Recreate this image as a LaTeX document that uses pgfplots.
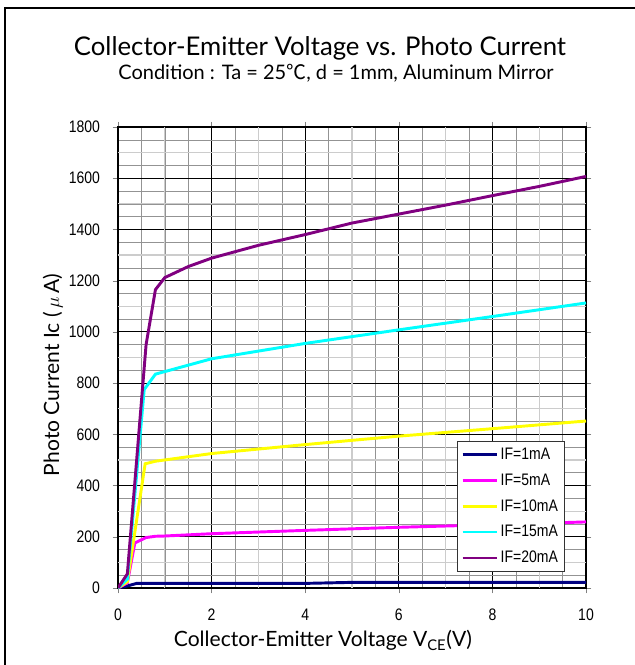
\documentclass[border=0pt]{standalone}
\usepackage{fontspec}
\setmainfont{Lato}
\newfontfamily\gothic{Liberation Sans}[FakeStretch=0.84]
\newfontfamily\cjk{Noto Sans CJK JP}
\usepackage{pgfplots}
\pgfplotsset{compat=1.18}
\definecolor{ifnavy}{RGB}{0,0,128}
\definecolor{ifmag}{RGB}{255,0,255}
\definecolor{ifyel}{RGB}{255,255,0}
\definecolor{ifcyan}{RGB}{0,255,255}
\definecolor{ifpurp}{RGB}{128,0,128}
\begin{document}
\begin{tikzpicture}[x=0.75pt,y=0.75pt]
\path[use as bounding box] (0,0) rectangle (635,665);
% frame, only left and top edges are inside the picture
\draw[line width=1.6pt] (5,-20) -- (5,657) -- (660,657);
\node[anchor=base,font=\fontsize{19.3}{22}\selectfont] at (320,609) {Collector-Emitter Voltage vs. Photo Current};
\node[anchor=base,font=\fontsize{15}{17}\selectfont] at (336,585) {Condition : Ta = 25{\cjk ℃}, d = 1mm, Aluminum Mirror};
\begin{axis}[
  at={(88.5pt,57.75pt)}, anchor=origin,
  scale only axis, width=351pt, height=345.75pt,
  xmin=0, xmax=10, ymin=0, ymax=1800,
  xtick={0,2,...,10}, ytick={0,200,...,1800},
  minor x tick num=3, minor y tick num=3,
  grid=both,
  major grid style={black, line width=0.6pt},
  minor grid style={gray!85, line width=0.45pt},
  extra x ticks={1,3,5,7,9}, extra y ticks={100,300,...,1700},
  extra x tick labels={}, extra y tick labels={},
  extra tick style={major grid style={gray!40, line width=0.9pt}, major tick length=0pt},
  tick align=outside, major tick length=4pt, minor tick length=0pt,
  axis line style={black, line width=0.8pt},
  /pgf/number format/assume math mode=true,
  /pgf/number format/1000 sep={},
  tick label style={font=\gothic\fontsize{12.5}{13}\selectfont},
  xticklabel style={yshift=-8pt},
  yticklabel style={xshift=-6pt},
  xlabel={Collector-Emitter Voltage V\textsubscript{CE}(V)},
  ylabel={Photo Current Ic (\,$\mu$\,A)},
  label style={font=\fontsize{15.8}{18}\selectfont},
  xlabel style={at={(axis description cs:0.438,0)}, anchor=base, yshift=-44pt},
  ylabel style={at={(axis description cs:-0.139,0.462)}, anchor=center},
  legend style={at={(0.724,0.319)}, anchor=north west, draw=black!80, line width=0.6pt,
    font=\gothic\fontsize{12.5}{13}\selectfont, row sep=5.2pt, inner sep=3pt},
  legend cell align=left,
  legend image code/.code={\draw[#1, line width=2pt] (0cm,0cm) -- (0.9cm,0cm);},
  every axis plot/.append style={line width=2.2pt, mark=none},
]
\addplot[ifnavy] coordinates {(0,0)(0.2,8)(0.4,18)(1,18)(2,18)(4,18)(5,22)(6,22)(8,22)(10,22)};
\addplot[ifmag] coordinates {(0,0)(0.2,20)(0.36,176)(0.6,197)(0.8,202)(1,203)(2,212)(4,225)(6,237)(8,247)(10,258)};
\addplot[ifyel] coordinates {(0,0)(0.2,25)(0.58,485)(0.8,495)(1,500)(2,525)(4,560)(6,593)(8,622)(10,652)};
\addplot[ifcyan] coordinates {(0,0)(0.2,35)(0.56,775)(0.8,835)(1,845)(1.5,870)(2,895)(4,955)(6,1008)(8,1060)(10,1113)};
\addplot[ifpurp] coordinates {(0,0)(0.2,55)(0.6,950)(0.8,1165)(1,1212)(1.5,1255)(2,1288)(3,1338)(4,1380)(5,1425)(6,1460)(7,1495)(8,1532)(9,1568)(10,1607)};
\legend{IF=1mA, IF=5mA, IF=10mA, IF=15mA, IF=20mA}
\end{axis}
\end{tikzpicture}
\end{document}
